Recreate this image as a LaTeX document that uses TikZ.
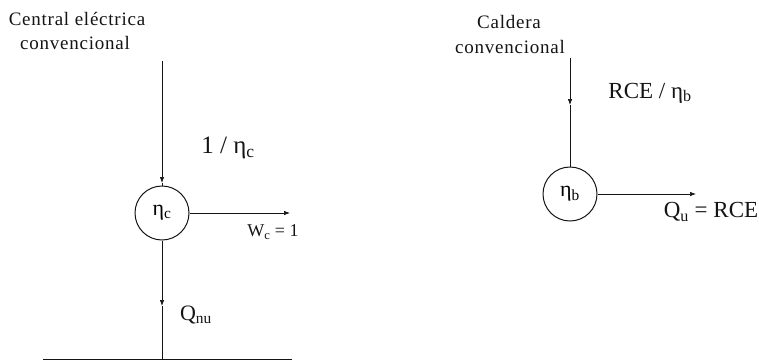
\documentclass[tikz,border=0pt]{standalone}
\usepackage{fontspec}
\setmainfont{Liberation Serif}
\usetikzlibrary{arrows.meta}
\definecolor{inkline}{RGB}{20, 20, 20}
\tikzset{
  flow/.style={inkline, line width=0.7pt, -{Latex[length=6pt,width=4.5pt]}},
  pipe/.style={inkline, line width=0.7pt},
  unit/.style={draw=inkline, circle, line width=1pt, minimum size=54pt, inner sep=0pt, font=\fontsize{22}{24}\selectfont},
  title/.style={inkline, font=\fontsize{19}{21}\selectfont\addfontfeature{LetterSpace=4}},
  qty/.style={inkline, font=\fontsize{23}{25}\selectfont},
}

\begin{document}
\begin{tikzpicture}[x=1pt, y=-1pt]
      \useasboundingbox (0,0) rectangle (759,362);
      % conventional power plant
      \node[title] (plantA) at (77,19) {Central eléctrica};
      \node[title] (plantB) at (75,43) {convencional};
      \node[unit] (etac) at (162,213) {η\textsubscript{c}};
      \coordinate (fuelc) at (162,61);
      \coordinate (fueltip) at (162,183);
      \draw[flow] (fuelc) -- (fueltip);
      \draw[pipe] (fueltip) -- (etac.north);
      \node[qty, font=\fontsize{25}{27}\selectfont] (fuellbl) at (228,148) {1 / η\textsubscript{c}};
      \coordinate (workend) at (290,213);
      \draw[flow] (etac.east) -- (workend);
      \node[qty, font=\fontsize{18}{20}\selectfont] (worklbl) at (273,232) {W\textsubscript{c} = 1};
      % waste heat down to the sink
      \coordinate (wastetip) at (162,306);
      \coordinate (sink) at (162,359);
      \draw[flow] (etac.south) -- (wastetip);
      \draw[pipe] (wastetip) -- (sink);
      \node[qty, font=\fontsize{22}{24}\selectfont] (wastelbl) at (196,315) {Q\textsubscript{nu}};
      \draw[inkline, line width=1.8pt] (43,359.5) -- (292,359.5);
      % conventional boiler
      \node[title] (boilA) at (509,22) {Caldera};
      \node[title] (boilB) at (510,47) {convencional};
      \node[unit] (etab) at (570,194) {η\textsubscript{b}};
      \coordinate (fuelb) at (570,58);
      \coordinate (fuelbtip) at (570,105);
      \draw[flow] (fuelb) -- (fuelbtip);
      \draw[pipe] (fuelbtip) -- (etab.north);
      \node[qty] (fuelblbl) at (650,93) {RCE / η\textsubscript{b}};
      \coordinate (heatend) at (696,194);
      \draw[flow] (etab.east) -- (heatend);
      \node[qty] (heatlbl) at (711,212) {Q\textsubscript{u} = RCE};
    \end{tikzpicture}
\end{document}
